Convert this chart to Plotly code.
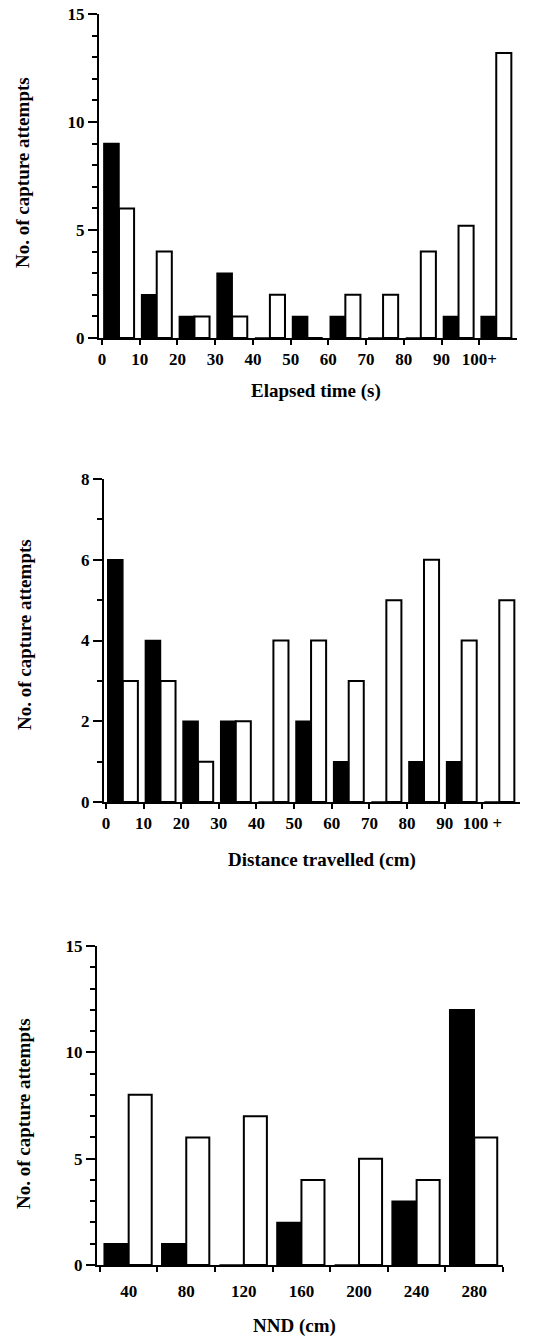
import plotly.graph_objects as go

# ---- data ----
time_bins = [0, 10, 20, 30, 40, 50, 60, 70, 80, 90, 100]
time_labels = ["0", "10", "20", "30", "40", "50", "60", "70", "80", "90", "100+"]
time_black = [9, 2, 1, 3, 0, 1, 1, 0, 0, 1, 1]
time_white = [6, 4, 1, 1, 2, 0, 2, 2, 4, 5.2, 13.2]

dist_bins = [0, 10, 20, 30, 40, 50, 60, 70, 80, 90, 100]
dist_labels = ["0", "10", "20", "30", "40", "50", "60", "70", "80", "90", "100 +"]
dist_black = [6, 4, 2, 2, 0, 2, 1, 0, 1, 1, 0]
dist_white = [3, 3, 1, 2, 4, 4, 3, 5, 6, 4, 5]

nnd_bins = [40, 80, 120, 160, 200, 240, 280]
nnd_labels = ["40", "80", "120", "160", "200", "240", "280"]
nnd_black = [1, 1, 0, 2, 0, 3, 12]
nnd_white = [8, 6, 7, 4, 5, 4, 6]

FONT = "Liberation Serif"
W, H = 533, 1337

fig = go.Figure()

def add_pair(bins, black, white, xa, ya, off_b, off_w, wb, ww):
    fig.add_trace(go.Bar(x=[b + off_b for b in bins], y=black, width=wb,
                         marker=dict(color="black", line=dict(color="black", width=1.5)),
                         xaxis=xa, yaxis=ya, showlegend=False))
    fig.add_trace(go.Bar(x=[b + off_w for b in bins], y=white, width=ww,
                         marker=dict(color="white", line=dict(color="black", width=2)),
                         xaxis=xa, yaxis=ya, showlegend=False))

add_pair(time_bins, time_black, time_white, "x", "y", 2.5, 6.5, 4, 4)
add_pair(dist_bins, dist_black, dist_white, "x2", "y2", 2.5, 6.5, 4, 4)
add_pair(nnd_bins, nnd_black, nnd_white, "x3", "y3", -8.5, 8, 17, 16)

tickfont = dict(family=FONT, size=17, color="black", weight="bold")

def yax(dom, rng, tv):
    return dict(domain=dom, range=rng, tickvals=tv, ticks="outside", ticklen=9,
                tickwidth=2, tickcolor="black", showline=True, linewidth=2,
                linecolor="black", showgrid=False, zeroline=False, tickfont=tickfont,
                minor=dict(dtick=1, tick0=0, ticks="outside", ticklen=5, tickwidth=2,
                           tickcolor="black", showgrid=False),
                fixedrange=True, automargin=False)

def xax(dom, rng, anchor, **kw):
    d = dict(domain=dom, range=rng, anchor=anchor, showline=True, linewidth=2,
             linecolor="black", showgrid=False, zeroline=False, tickfont=tickfont,
             tickangle=0, tickcolor="black", tickwidth=2, automargin=False,
             fixedrange=True)
    d.update(kw)
    return d

def py(p):
    return 1 - p / H

fig.update_layout(
    width=W, height=H, margin=dict(l=0, r=0, t=0, b=0, autoexpand=False),
    paper_bgcolor="white", plot_bgcolor="white", barmode="overlay",
    hovermode=False,
    xaxis=xax([99 / W, 517 / W], [-0.8, 110], "y", tickvals=time_bins,
              ticktext=time_labels, ticks="outside", ticklen=5),
    yaxis=yax([py(338), py(14)], [0, 15], [0, 5, 10, 15]) | dict(anchor="x"),
    xaxis2=xax([104 / W, 520 / W], [-0.5, 110], "y2", tickvals=dist_bins,
               ticktext=dist_labels, ticks="outside", ticklen=5),
    yaxis2=yax([py(802), py(479)], [0, 8], [0, 2, 4, 6, 8]) | dict(anchor="x2"),
    xaxis3=xax([97 / W, 503 / W], [18, 300], "y3", tickvals=nnd_bins,
               ticktext=nnd_labels, ticks="", ticklabelstandoff=10,
               minor=dict(tick0=20, dtick=40, ticks="outside", ticklen=5,
                          tickwidth=2, tickcolor="black", showgrid=False)),
    yaxis3=yax([py(1265), py(946)], [0, 15], [0, 5, 10, 15]) | dict(anchor="x3"),
)

titlefont = dict(family=FONT, size=19, color="black", weight="bold")
ytitle = "No. of capture attempts"
for xp, yp in [(22, 173), (25, 635), (23, 1114)]:
    fig.add_annotation(x=xp / W, y=py(yp), xref="paper", yref="paper", text=ytitle,
                       textangle=-90, showarrow=False, font=titlefont,
                       xanchor="center", yanchor="middle")
for txt, xp, yp in [("Elapsed time (s)", 316, 391), ("Distance travelled (cm)", 322, 860),
                    ("NND (cm)", 294, 1326)]:
    fig.add_annotation(x=xp / W, y=py(yp), xref="paper", yref="paper", text=txt,
                       showarrow=False, font=titlefont, xanchor="center", yanchor="middle")

fig.write_html("out.html", config={"displayModeBar": False},
               post_script="document.body.style.margin='0';document.body.style.overflow='hidden';")
